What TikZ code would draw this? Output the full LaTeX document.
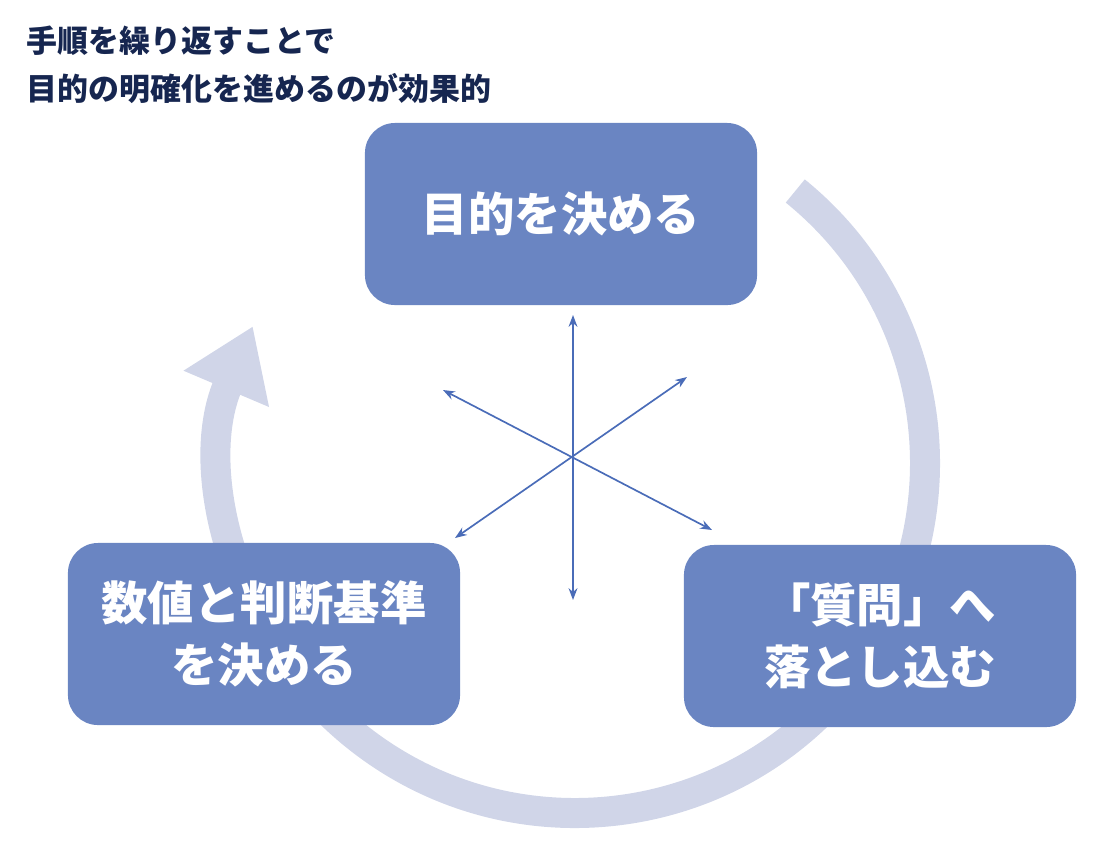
\documentclass[tikz,border=0pt]{standalone}
\usepackage{fontspec}
\setmainfont{Noto Sans CJK JP}
\usetikzlibrary{arrows.meta}
\definecolor{boxblue}{RGB}{106,133,194}
\definecolor{ringgray}{RGB}{208,213,232}
\definecolor{linkblue}{RGB}{74,108,184}
\definecolor{titlenavy}{RGB}{22,38,80}
\begin{document}
\begin{tikzpicture}[
	x=0.025cm, y=-0.025cm,
	stage/.style={rectangle, rounded corners=0.75cm, fill=boxblue, text=white, minimum width=9.8cm, minimum height=4.55cm, align=center, font=\fontsize{33}{44}\selectfont\bfseries},
	ring/.style={line width=0.75cm, draw=ringgray, -{Triangle[width=2.2cm, length=1.7cm]}},
	link/.style={{Stealth}-{Stealth}, draw=linkblue, line width=1.2pt}
	]
	\useasboundingbox (0,0) rectangle (1116,858);
	
	% Cycle ring
	\draw[ring] (575,463) ++(-51:350) arc[start angle=-51, end angle=203, radius=350];
	
	% Title
	\node[anchor=west, text=titlenavy, align=left, font=\fontsize{22}{34}\selectfont\bfseries] (title) at (22,65) {手順を繰り返すことで\\目的の明確化を進めるのが効果的};
	
	% Stages
	\node[stage] (goal) at (561,214) {目的を決める};
	\node[stage] (criteria) at (264,634) {数値と判断基準\\を決める};
	\node[stage] (question) at (880,636) {「質問」へ\\落とし込む};
	
	% Star links
	\coordinate (c) at (573,455);
	\coordinate (n) at (573,315);
	\coordinate (s) at (573,600);
	\coordinate (nw) at (443,390);
	\coordinate (se) at (712,530);
	\coordinate (ne) at (687,377);
	\coordinate (sw) at (455,538);
	\draw[link] (n) -- (s);
	\draw[link] (nw) -- (se);
	\draw[link] (ne) -- (sw);
	
\end{tikzpicture}
\end{document}
